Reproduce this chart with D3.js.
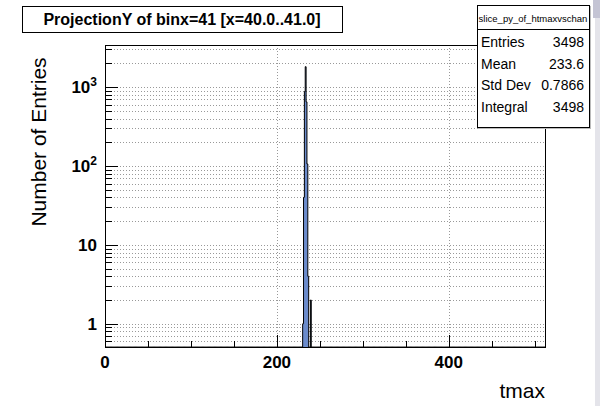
<!DOCTYPE html>
<html>
<head>
<meta charset="utf-8">
<script src="https://cdn.jsdelivr.net/npm/d3@7"></script>
<style>
  body { margin: 0; background: #fff; }
  text { font-family: "Liberation Sans", Arial, sans-serif; }
</style>
</head>
<body>
<div id="chart"></div>
<script>
// histogram contents (bin low edge -> entries), everything else is empty
var binLow = [230, 231, 232, 233, 234, 235, 236, 239];
var counts = [1, 40, 880, 1815, 650, 106, 4, 2];
var xTicks = [0, 200, 400];
var yMajor = [1, 10, 100, 1000];
var yLabels = ["1", "10", "10^2", "10^3"];
var statNames = ["Entries", "Mean", "Std Dev", "Integral"];
var statValues = ["3498", "233.6", "0.7866", "3498"];

var svgWidth = 600;
var svgHeight = 406;

var frame = { left: 105, right: 545, top: 45, bottom: 347 };

var svg = d3.select("#chart")
    .append("svg")
    .attr("width", svgWidth)
    .attr("height", svgHeight);

var xScale = d3.scaleLinear()
    .domain([0, 512])
    .range([frame.left, frame.right]);

var yScale = d3.scaleLog()
    .domain([0.508, 3420])
    .range([frame.bottom, frame.top]);

// grid lines
var gridVals = [];
[0.1, 1, 10, 100, 1000].forEach(function (dec) {
    for (var k = 1; k <= 9; k++) {
        var v = dec * k;
        if (v >= 0.508 && v <= 3420) gridVals.push(v);
    }
});

svg.append("g").selectAll("line")
    .data(gridVals)
    .enter()
    .append("line")
    .attr("x1", frame.left)
    .attr("x2", frame.right)
    .attr("y1", d => Math.round(yScale(d)) + 0.5)
    .attr("y2", d => Math.round(yScale(d)) + 0.5)
    .attr("stroke", "#999")
    .attr("stroke-width", 1)
    .attr("stroke-dasharray", "1,2");

svg.append("g").selectAll("line")
    .data(xTicks)
    .enter()
    .append("line")
    .attr("x1", d => Math.round(xScale(d)) + 0.5)
    .attr("x2", d => Math.round(xScale(d)) + 0.5)
    .attr("y1", frame.top)
    .attr("y2", frame.bottom)
    .attr("stroke", "#999")
    .attr("stroke-width", 1)
    .attr("stroke-dasharray", "1,2");

// histogram as a step polygon
var lookup = {};
binLow.forEach((b, i) => lookup[b] = counts[i]);
var pts = [[xScale(0), frame.bottom]];
for (var b = 0; b < 512; b++) {
    var c = lookup[b] || 0;
    var yy = c > 0 ? yScale(c) : frame.bottom;
    pts.push([xScale(b), yy]);
    pts.push([xScale(b + 1), yy]);
}
pts.push([xScale(512), frame.bottom]);

svg.append("path")
    .attr("d", d3.line()(pts))
    .attr("fill", "#6b8bcb")
    .attr("stroke", "#000")
    .attr("stroke-width", 1);

// y ticks
var yTickG = svg.append("g");
yTickG.selectAll("line")
    .data(gridVals)
    .enter()
    .append("line")
    .attr("x1", frame.left)
    .attr("x2", d => frame.left + (yMajor.indexOf(d) >= 0 ? 13 : 7))
    .attr("y1", d => Math.round(yScale(d)) + 0.5)
    .attr("y2", d => Math.round(yScale(d)) + 0.5)
    .attr("stroke", "#000");

var yLab = svg.append("g").selectAll("text")
    .data(yMajor)
    .enter()
    .append("text")
    .attr("x", frame.left - 8)
    .attr("y", d => yScale(d) + 6)
    .attr("text-anchor", "end")
    .attr("font-size", "17px")
    .attr("font-weight", "bold");

yLab.each(function (d, i) {
    var t = d3.select(this);
    var lab = yLabels[i];
    if (lab.indexOf("^") > 0) {
        var parts = lab.split("^");
        t.append("tspan").text(parts[0]);
        t.append("tspan").attr("dy", -7).attr("font-size", "12px").text(parts[1]);
    } else {
        t.text(lab);
    }
});

// x ticks
var xMinor = d3.range(0, 512, 50);
svg.append("g").selectAll("line")
    .data(xMinor)
    .enter()
    .append("line")
    .attr("x1", d => Math.round(xScale(d)) + 0.5)
    .attr("x2", d => Math.round(xScale(d)) + 0.5)
    .attr("y1", frame.bottom)
    .attr("y2", d => frame.bottom - (d % 200 === 0 ? 12 : 6))
    .attr("stroke", "#000");

svg.append("g").selectAll("text")
    .data(xTicks)
    .enter()
    .append("text")
    .attr("x", d => xScale(d))
    .attr("y", frame.bottom + 21)
    .attr("text-anchor", "middle")
    .attr("font-size", "17px")
    .attr("font-weight", "bold")
    .text(d => d);

// frame
svg.append("rect")
    .attr("x", frame.left + 0.5)
    .attr("y", frame.top + 0.5)
    .attr("width", frame.right - frame.left)
    .attr("height", frame.bottom - frame.top)
    .attr("fill", "none")
    .attr("stroke", "#000");

// axis titles
svg.append("text")
    .attr("transform", "translate(46, 142) rotate(-90)")
    .attr("text-anchor", "middle")
    .attr("font-size", "21px")
    .text("Number of Entries");

svg.append("text")
    .attr("x", frame.right)
    .attr("y", 398)
    .attr("text-anchor", "end")
    .attr("font-size", "21px")
    .text("tmax");

// title box
svg.append("rect")
    .attr("x", 22.5)
    .attr("y", 6.5)
    .attr("width", 320)
    .attr("height", 26)
    .attr("fill", "#fff")
    .attr("stroke", "#000");

svg.append("text")
    .attr("x", 182)
    .attr("y", 25)
    .attr("text-anchor", "middle")
    .attr("font-size", "16px")
    .attr("font-weight", "bold")
    .text("ProjectionY of binx=41 [x=40.0..41.0]");

// stats box
var stats = svg.append("g");
stats.append("rect")
    .attr("x", 478)
    .attr("y", 6)
    .attr("width", 113)
    .attr("height", 123)
    .attr("fill", "#bbb");
stats.append("rect")
    .attr("x", 477.5)
    .attr("y", 5.5)
    .attr("width", 112)
    .attr("height", 122)
    .attr("fill", "#fff")
    .attr("stroke", "#000");
stats.append("line")
    .attr("x1", 477.5)
    .attr("x2", 589.5)
    .attr("y1", 29.5)
    .attr("y2", 29.5)
    .attr("stroke", "#000");
stats.append("text")
    .attr("x", 533)
    .attr("y", 22)
    .attr("text-anchor", "middle")
    .attr("font-size", "9.5px")
    .text("slice_py_of_htmaxvschan");

statNames.forEach(function (n, i) {
    stats.append("text")
        .attr("x", 481)
        .attr("y", 47 + i * 21.7)
        .attr("font-size", "14px")
        .text(n);
    stats.append("text")
        .attr("x", 584)
        .attr("y", 47 + i * 21.7)
        .attr("text-anchor", "end")
        .attr("font-size", "14px")
        .text(statValues[i]);
});

// right side strip of the canvas window
svg.append("rect")
    .attr("x", 595)
    .attr("y", 0)
    .attr("width", 5)
    .attr("height", svgHeight)
    .attr("fill", "#e4e4ea");
svg.append("rect")
    .attr("x", 593)
    .attr("y", 0)
    .attr("width", 7)
    .attr("height", 18)
    .attr("fill", "#c4c4d4");
</script>
</body>
</html>
